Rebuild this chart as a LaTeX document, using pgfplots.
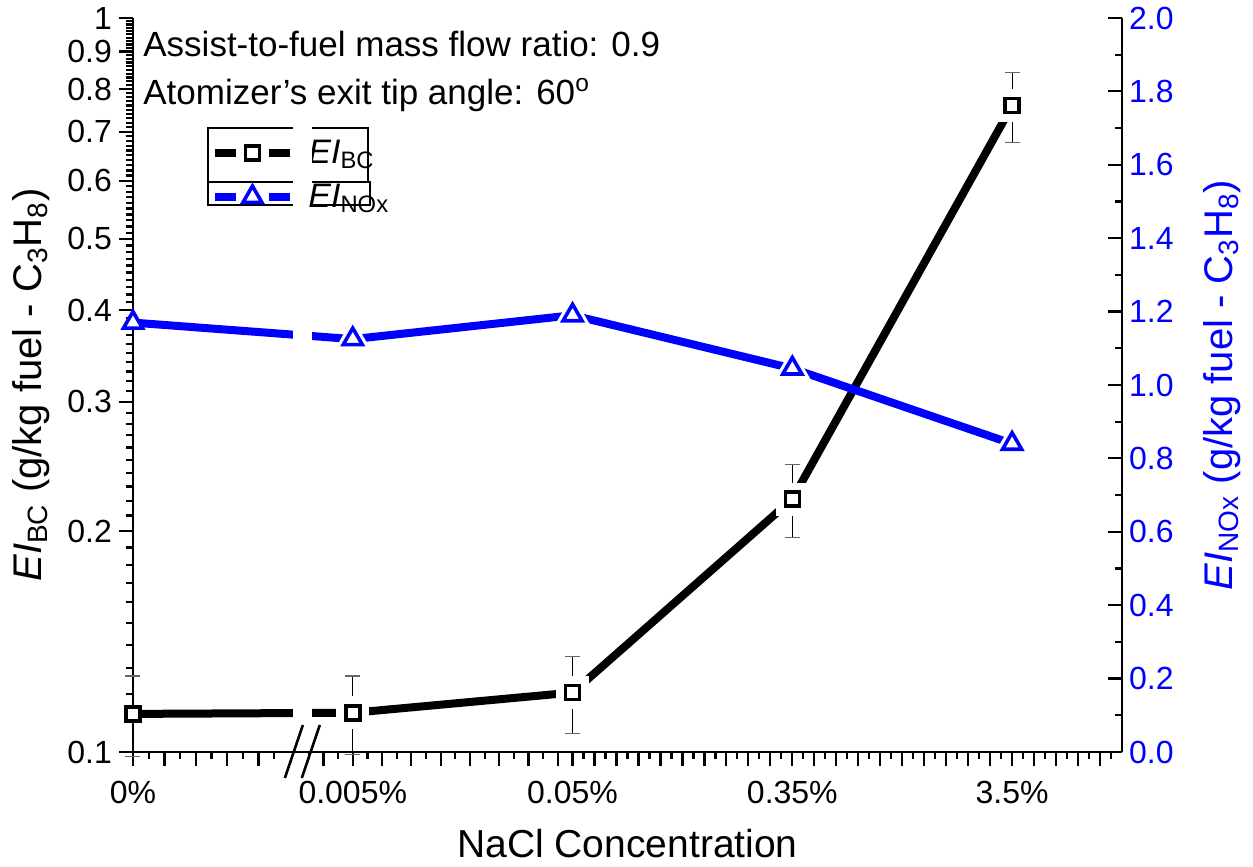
\documentclass[border=0pt]{standalone}
\usepackage{fontspec}
\setmainfont{Liberation Sans}
\usepackage{pgfplots}
\usepackage{pgfplotstable}
\pgfplotsset{compat=1.18}

% Black carbon emission index (left, log axis) with symmetric error
\pgfplotstableread{
x y err
0 0.1127 0.0142
1 0.1131 0.0138
2 0.1205 0.0145
3 0.2211 0.0251
4 0.7596 0.0825
}\bcdata

% NOx emission index (right, linear axis)
\pgfplotstableread{
x y
0 1.170
1 1.125
2 1.190
3 1.045
4 0.840
}\noxdata

\newcommand\tfont{\fontsize{16}{19}\selectfont}
\newcommand\lfont{\fontsize{20}{24}\selectfont}
\newcommand\xlfont{\fontsize{19.5}{23}\selectfont}
\newcommand\gfont{\fontsize{17}{20}\selectfont}
\newcommand\afont{\fontsize{17.5}{21}\selectfont}

\pgfplotsset{
  common/.style={
    scale only axis, width=494.5pt, height=367pt,
    at={(0,0)}, anchor=south west,
    xmin=0, xmax=4.5,
    tick label style={font=\tfont},
    /pgf/number format/assume math mode=true,
    clip=false,
    axis line style={line width=1.2pt},
    tick style={line width=1.1pt, black},
    major tick length=7pt, minor tick length=3.5pt,
  },
  keyleg/.style={
    legend style={at={(axis description cs:0.0789,#1)}, anchor=west,
      draw=none, fill=none, font=\gfont, column sep=7pt,
      inner sep=0pt, nodes={inner sep=0pt}},
    legend cell align=left,
  },
}

\begin{document}
\begin{tikzpicture}
\begin{axis}[common, keyleg=0.8161,
  ymode=log, ymin=0.1, ymax=1,
  axis x line*=bottom, axis y line*=left,
  tick align=outside,
  xtick={0,1,2,3,4},
  xticklabels={0\%,0.005\%,0.05\%,0.35\%,3.5\%},
  xticklabel style={yshift=-4pt},
  minor xtick={0.0714,0.2143,0.3571,0.5,0.6429,0.8,0.9333,1.0667,1.2,1.3333,1.4667,1.6,1.7333,1.8667,
    2.05,2.15,2.25,2.35,2.45,2.55,2.65,2.75,2.85,2.95,3.05,3.15,3.25,3.35,3.45,3.55,3.65,3.75,3.85,3.95,
    4.05,4.15,4.25,4.35,4.45},
  extra x ticks={0.1429,0.2857,0.4286,0.5714,0.8667,1.1333,1.2667,1.4,1.5333,1.6667,1.8,1.9333,
    2.1,2.2,2.3,2.4,2.5,2.6,2.7,2.8,2.9,3.1,3.2,3.3,3.4,3.5,3.6,3.7,3.8,3.9,4.1,4.2,4.3,4.4},
  extra x tick labels={},
  ytick={0.1,0.2,0.3,0.4,0.5,0.6,0.7,0.8,0.9,1},
  yticklabels={0.1,0.2,0.3,0.4,0.5,0.6,0.7,0.8,0.9,1},
  minor ytick={0.11,0.12,0.13,0.14,0.15,0.16,0.17,0.18,0.19,
    0.21,0.22,0.23,0.24,0.25,0.26,0.27,0.28,0.29,
    0.31,0.32,0.33,0.34,0.35,0.36,0.37,0.38,0.39,
    0.41,0.42,0.43,0.44,0.45,0.46,0.47,0.48,0.49,
    0.51,0.52,0.53,0.54,0.55,0.56,0.57,0.58,0.59,
    0.61,0.62,0.63,0.64,0.65,0.66,0.67,0.68,0.69,
    0.71,0.72,0.73,0.74,0.75,0.76,0.77,0.78,0.79,
    0.81,0.82,0.83,0.84,0.85,0.86,0.87,0.88,0.89,
    0.91,0.92,0.93,0.94,0.95,0.96,0.97,0.98,0.99},
  xlabel={NaCl Concentration},
  every axis x label/.style={at={([yshift=-46pt]axis description cs:0.5,0)}, anchor=center, font=\xlfont},
  ylabel={\textit{EI}\textsubscript{BC} (g/kg fuel - C\textsubscript{3}H\textsubscript{8})},
  every axis y label/.style={at={([xshift=-51pt]axis description cs:0,0.5)}, rotate=90, anchor=center, font=\lfont},
]
% connecting line
\addplot[black, line width=4pt, mark=none, forget plot] table[x=x,y=y]{\bcdata};
% white surround that opens the line near each marker
\addplot[only marks, mark=square*, mark size=8pt, mark options={fill=white, draw=white},
  restrict x to domain=0.5:5, forget plot] table[x=x,y=y]{\bcdata};
% error bars
\addplot[only marks, mark=none, forget plot,
  error bars/.cd, y dir=both, y explicit,
  error bar style={line width=0.6pt, black},
  error mark options={rotate=90, mark size=3.75pt, line width=0.6pt, black!60}]
  table[x=x,y=y,y error=err]{\bcdata};
% markers
\addplot[only marks, mark=square*, mark size=3.5pt,
  mark options={fill=white, draw=black, line width=1.8pt}, forget plot] table[x=x,y=y]{\bcdata};
\addlegendimage{legend image code/.code={
  \draw[black, line width=4pt] (0pt,0pt) -- (10.5pt,0pt);
  \draw[black, line width=4pt] (27pt,0pt) -- (37.5pt,0pt);
  \draw[black, line width=1.8pt, fill=white] (15pt,-3.5pt) rectangle (22pt,3.5pt);
}}
\addlegendentry{\textit{EI}\textsubscript{BC}}
\end{axis}

\begin{axis}[common, keyleg=0.7561,
  ymin=0, ymax=2,
  axis x line=none, axis y line*=right,
  tick align=inside,
  ytick={0,0.2,0.4,0.6,0.8,1.0,1.2,1.4,1.6,1.8,2.0},
  minor y tick num=1,
  yticklabel style={blue, /pgf/number format/fixed, /pgf/number format/fixed zerofill,
    /pgf/number format/precision=1},
  ylabel={\textit{EI}\textsubscript{NOx} (g/kg fuel - C\textsubscript{3}H\textsubscript{8})},
  every axis y label/.style={at={([xshift=50pt]axis description cs:1,0.5)}, rotate=90, anchor=center, font=\lfont, blue},
]
\addplot[blue, line width=4pt, mark=none, forget plot] table[x=x,y=y]{\noxdata};
\addplot[only marks, mark=triangle*, mark size=10pt, mark options={fill=white, draw=white},
  restrict x to domain=0.5:5, forget plot] table[x=x,y=y]{\noxdata};
\addplot[only marks, mark=triangle*, mark size=5.5pt,
  mark options={fill=white, draw=blue, line width=1.8pt}, forget plot] table[x=x,y=y]{\noxdata};
\addlegendimage{legend image code/.code={
  \draw[blue, line width=4pt] (0pt,0pt) -- (10.5pt,0pt);
  \draw[blue, line width=4pt] (27pt,0pt) -- (37.5pt,0pt);
  \draw[blue, line width=1.8pt, fill=white] ([shift={(90:5.5pt)}]18.5pt,0pt)
    -- ([shift={(210:5.5pt)}]18.5pt,0pt) -- ([shift={(330:5.5pt)}]18.5pt,0pt) -- cycle;
}}
\addlegendentry{\textit{EI}\textsubscript{NOx}}

% frames of the two key boxes
\draw[black, line width=0.6pt] (axis description cs:0.0758,0.8501) rectangle (axis description cs:0.2376,0.7766);
\draw[black, line width=0.6pt] (axis description cs:0.0758,0.7766) rectangle (axis description cs:0.2396,0.7452);

% axis break on the concentration scale
\fill[white] (rel axis cs:0.1616,0.004) rectangle (rel axis cs:0.1809,0.995);
\draw[black, line width=1.3pt] ([yshift=13.5pt]axis cs:0.773,0) -- ([yshift=-13pt]axis cs:0.691,0);
\draw[black, line width=1.3pt] ([yshift=13.5pt]axis cs:0.850,0) -- ([yshift=-13pt]axis cs:0.768,0);

\node[anchor=base west, inner sep=0pt, font=\afont] at (axis description cs:0.0101,0.9469) {Assist-to-fuel mass flow ratio: 0.9};
\node[anchor=base west, inner sep=0pt, font=\afont] at (axis description cs:0.0101,0.8828) {Atomizer's exit tip angle: 60\textsuperscript{o}};
\end{axis}

\pgfresetboundingbox
\path[use as bounding box] (-66.5pt,-57.5pt) rectangle (560pt,376pt);
\end{tikzpicture}
\end{document}
